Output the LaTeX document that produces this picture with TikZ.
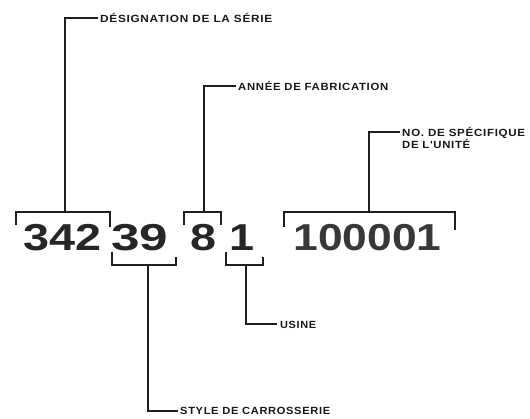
\documentclass[tikz,border=0pt]{standalone}
\usepackage{fontspec}
\setmainfont{Liberation Sans}
\newfontfamily\lblfont[LetterSpace=6]{Liberation Sans}
\usepackage{graphicx}
\tikzset{
  brk/.style={line width=1.6pt, line cap=butt, line join=miter, draw=black!88},
  lbl/.style={font=\lblfont\fontsize{10.4}{12}\selectfont\bfseries, inner sep=0pt, anchor=base west, text=black!90},
  num/.style={font=\fontsize{37.5}{40}\selectfont\bfseries, inner sep=0pt, anchor=base, text=black!85}
}
\newcommand\fitw[2]{\resizebox{#1}{\height}{#2}}
\begin{document}
\begin{tikzpicture}[x=1pt,y=-1pt]
\useasboundingbox (0,0) rectangle (530,418);
% numbers
\node[num] (n342) at (62.5,250) {\fitw{78pt}{342}};
\node[num] (n39) at (140,250) {\fitw{57pt}{39}};
\node[num] (n8) at (203.5,250) {\fitw{26pt}{8}};
\node[num] (n1) at (242,250) {\fitw{25pt}{1}};
\node[num, text=black!78] (n100001) at (367.5,250) {\fitw{148pt}{100001}};
% labels
\node[lbl] (desig) at (100,22) {\fitw{172pt}{DÉSIGNATION DE LA SÉRIE}};
\node[lbl] (annee) at (238,90) {\fitw{150pt}{ANNÉE DE FABRICATION}};
\node[lbl] (noa) at (402,136) {\fitw{123pt}{NO. DE SPÉCIFIQUE}};
\node[lbl] (nob) at (402,148.5) {\fitw{68pt}{DE L'UNITÉ}};
\node[lbl] (usine) at (280,328) {\fitw{36pt}{USINE}};
\node[lbl] (style) at (180,414.5) {\fitw{150pt}{STYLE DE CARROSSERIE}};
% bracket corners and stems
\coordinate (a1) at (16,225); \coordinate (a2) at (110,212); \coordinate (a3) at (110,227);
\coordinate (b1) at (184,225); \coordinate (b2) at (221,212); \coordinate (b3) at (221,225);
\coordinate (c1) at (284,227); \coordinate (c2) at (455,212); \coordinate (c3) at (455,230);
\coordinate (d1) at (112,252); \coordinate (d2) at (176,265); \coordinate (d3) at (176,257);
\coordinate (e1) at (226,252); \coordinate (e2) at (263,265); \coordinate (e3) at (263,257);
\coordinate (sa) at (65,212);
\coordinate (sb) at (204,212);
\coordinate (sc) at (369,212);
\coordinate (sd) at (148,265);
\coordinate (se) at (246,265);
% brackets
\draw[brk] (a1) |- (a2) -- (a3);
\draw[brk] (b1) |- (b2) -- (b3);
\draw[brk] (c1) |- (c2) -- (c3);
\draw[brk] (d1) |- (d2) -- (d3);
\draw[brk] (e1) |- (e2) -- (e3);
% leaders
\draw[brk] (sa) |- ([xshift=-2pt,yshift=3.8pt]desig.base west);
\draw[brk] (sb) |- ([xshift=-2pt,yshift=3.8pt]annee.base west);
\draw[brk] (sc) |- ([xshift=-2pt,yshift=3.8pt]noa.base west);
\draw[brk] (sd) |- ([xshift=-2pt,yshift=3.8pt]style.base west);
\draw[brk] (se) |- ([xshift=-3pt,yshift=3.8pt]usine.base west);
\end{tikzpicture}
\end{document}
